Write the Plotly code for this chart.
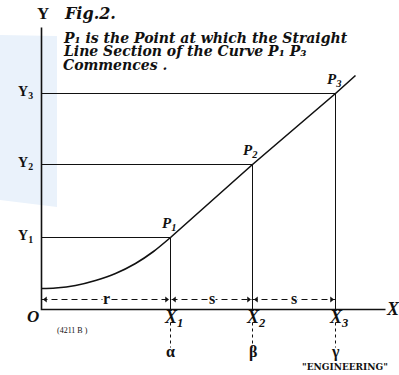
import plotly.graph_objects as go

# diagram units: origin O at the corner of the axes
X_NAMES = ["X<sub>1</sub>", "X<sub>2</sub>", "X<sub>3</sub>"]
X_POS = [129, 211, 294]
GREEK = ["α", "β", "γ"]
Y_NAMES = ["Y<sub>1</sub>", "Y<sub>2</sub>", "Y<sub>3</sub>"]
Y_POS = [72, 145, 216]
P_NAMES = ["P<sub>1</sub>", "P<sub>2</sub>", "P<sub>3</sub>"]
SPANS = ["r", "s", "s"]

# the curve: bend up to P1 then straight through P2, P3
CURVE_X = [0, 14, 34, 54, 74, 94, 112, 129]
CURVE_Y = [21, 21.5, 24, 29, 36, 46, 58, 72]
LINE_X = [129, 211, 294, 314]
LINE_Y = [72, 145, 216, 234]

NOTE = ["P₁ is the Point at which the Straight",
        "Line Section of the Curve P₁ P₃",
        "Commences ."]

SERIF = "Liberation Serif"
WIDE = "DejaVu Serif"
INK = "#111111"

fig = go.Figure()

# pale blue patch at the left edge of the scan
fig.add_shape(type="path", layer="below", line_width=0, fillcolor="#eaf2fb",
              path="M -42 274.5 L 15.5 273.5 L 15.5 102.5 L -42 109.5 Z")

# axes
fig.add_trace(go.Scatter(x=[0, 0, 344], y=[282, 0, 0], mode="lines",
                         line=dict(color=INK, width=1.6), hoverinfo="skip"))

# ordinate / abscissa guide lines for each point
for xp, yp in zip(X_POS, Y_POS):
    fig.add_trace(go.Scatter(x=[0, xp, xp], y=[yp, yp, 0], mode="lines",
                             line=dict(color=INK, width=1), hoverinfo="skip"))
    fig.add_trace(go.Scatter(x=[xp, xp], y=[-13, -38], mode="lines",
                             line=dict(color=INK, width=1, dash="3px,3px"),
                             hoverinfo="skip"))

# the curve and its straight part
fig.add_trace(go.Scatter(x=CURVE_X, y=CURVE_Y, mode="lines",
                         line=dict(color=INK, width=1.6, shape="spline", smoothing=0.8),
                         hoverinfo="skip"))
fig.add_trace(go.Scatter(x=LINE_X, y=LINE_Y, mode="lines",
                         line=dict(color=INK, width=1.6), hoverinfo="skip"))

# dimension line r / s / s
edges = [0] + X_POS
fig.add_trace(go.Scatter(x=[edges[0], edges[-1]], y=[10, 10], mode="lines",
                         line=dict(color=INK, width=1, dash="6px,4px"), hoverinfo="skip"))
fig.add_trace(go.Scatter(x=[e + 4 for e in edges[:-1]], y=[10] * 3, mode="markers",
                         marker=dict(symbol="triangle-left", size=5, color=INK),
                         hoverinfo="skip"))
fig.add_trace(go.Scatter(x=[e - 4 for e in edges[1:]], y=[10] * 3, mode="markers",
                         marker=dict(symbol="triangle-right", size=5, color=INK),
                         hoverinfo="skip"))
fig.add_trace(go.Scatter(x=[edges[-1], edges[-1]], y=[4, 16], mode="lines",
                         line=dict(color=INK, width=1), hoverinfo="skip"))

annos = []
for a, b, t in zip(edges[:-1], edges[1:], SPANS):
    annos.append(dict(x=(a + b) / 2, y=11, text="<b>" + t + "</b>", bgcolor="white",
                      borderpad=0, font=dict(family=SERIF, size=16, color=INK)))

for name, xp, g in zip(X_NAMES, X_POS, GREEK):
    annos.append(dict(x=xp + 3, y=-9, text="<b><i>" + name + "</i></b>",
                      font=dict(family=SERIF, size=18, color=INK)))
    annos.append(dict(x=xp, y=-42, text="<b>" + g + "</b>",
                      font=dict(family=SERIF, size=16, color=INK)))

for name, yp in zip(Y_NAMES, Y_POS):
    annos.append(dict(x=-16, y=yp + 1, text="<b>" + name + "</b>",
                      font=dict(family=SERIF, size=14, color=INK)))

for name, xp, yp in zip(P_NAMES, X_POS, Y_POS):
    annos.append(dict(x=xp - 2, y=yp + 14, text="<b><i>" + name + "</i></b>",
                      font=dict(family=SERIF, size=15, color=INK)))

for i, line in enumerate(NOTE):
    annos.append(dict(x=20, y=272 - 13.5 * i, text="<b><i>" + line + "</i></b>",
                      xanchor="left", borderpad=0,
                      font=dict(family=WIDE, size=14, color=INK)))

annos += [
    dict(x=1, y=296, text="<b>Y</b>", font=dict(family=SERIF, size=17, color=INK)),
    dict(x=20, y=296, text="<b><i>Fig.2.</i></b>", xanchor="left",
         font=dict(family=WIDE, size=16, color=INK)),
    dict(x=-9, y=-7, text="<b><i>O</i></b>", font=dict(family=SERIF, size=17, color=INK)),
    dict(x=351, y=1, text="<b><i>X</i></b>", font=dict(family=SERIF, size=18, color=INK)),
    dict(x=31, y=-21, text="(4211 B )", font=dict(family=SERIF, size=8, color=INK)),
    dict(x=303, y=-57, text='<b>"ENGINEERING"</b>', font=dict(family=WIDE, size=9, color=INK)),
]
for a in annos:
    a.setdefault("showarrow", False)

fig.update_layout(
    width=399, height=375, autosize=False,
    margin=dict(l=0, r=0, t=0, b=0),
    paper_bgcolor="white", plot_bgcolor="white",
    showlegend=False, annotations=annos,
    xaxis=dict(range=[-41.5, 357.5], visible=False, fixedrange=True),
    yaxis=dict(range=[-65.5, 309.5], visible=False, fixedrange=True),
)

fig.write_html("out.html", config={"displayModeBar": False},
               post_script="document.body.style.margin='0';")
